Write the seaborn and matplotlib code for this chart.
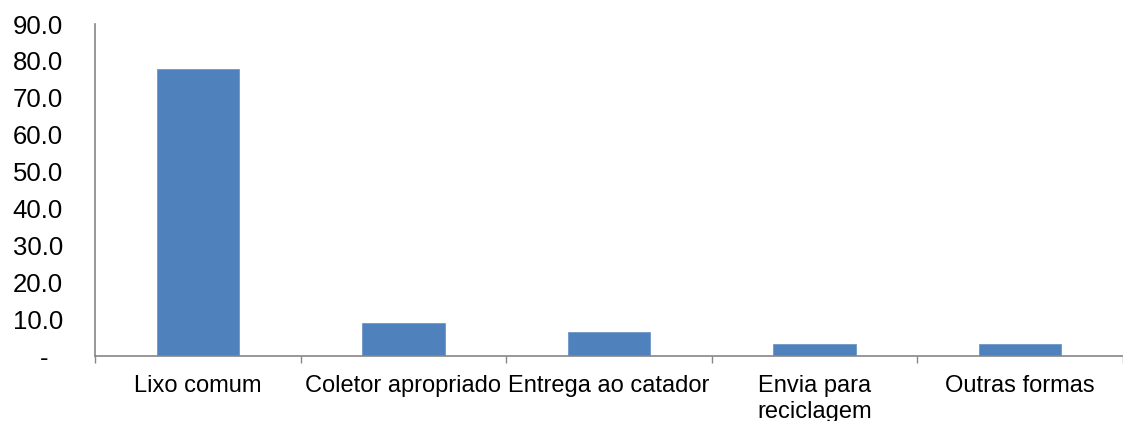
import matplotlib
matplotlib.use('Agg')
import matplotlib.pyplot as plt
import seaborn as sns
import pandas as pd
import numpy as np
from matplotlib.ticker import FuncFormatter

categorias = ['Lixo comum', 'Coletor apropriado', 'Entrega ao catador',
              'Envia para\nreciclagem', 'Outras formas']
percentuais = [77.8, 8.9, 6.4, 3.3, 3.2]
y_ticks = [0, 10, 20, 30, 40, 50, 60, 70, 80, 90]

BAR = '#4F81BD'
AXIS = '#868686'

sns.set_style('white')
plt.rcParams['font.family'] = ['Liberation Sans', 'DejaVu Sans']

df = pd.DataFrame({'categoria': categorias, 'valor': percentuais})

fig = plt.figure(figsize=(11.23, 4.21), dpi=100)
ax = fig.add_axes([95 / 1123, 65 / 421, (1123 - 95) / 1123, 332 / 421])

sns.barplot(data=df, x='categoria', y='valor', color=BAR, width=0.4,
            saturation=1, edgecolor='#6F97C8', linewidth=0.6, ax=ax)

ax.set_ylim(0, 90)
ax.set_xlim(-0.5, -0.5 + (1123 - 95) / 207.5)
ax.set_yticks(y_ticks)
ax.yaxis.set_major_formatter(FuncFormatter(lambda v, p: '-  ' if v == 0 else f'{v:.1f}'))

ax.set_xticks(np.arange(len(categorias)))
ax.set_xticklabels(categorias)
ax.set_xticks(np.arange(len(categorias) + 1) - 0.5, minor=True)
ax.tick_params(axis='x', which='major', length=0, pad=14, labelsize=17, colors='black')
ax.tick_params(axis='x', which='minor', length=5, width=1, color=AXIS, direction='out')
ax.tick_params(axis='y', length=6, width=1, color=AXIS, direction='out', pad=17,
               labelsize=18.5, labelcolor='black')
ax.tick_params(axis='x', which='both', bottom=True)

sns.despine(ax=ax, top=True, right=True)
for side in ['left', 'bottom']:
    ax.spines[side].set_color(AXIS)
    ax.spines[side].set_linewidth(1.2)

ax.set_xlabel('')
ax.set_ylabel('')
ax.grid(False)

fig.savefig('out.png', dpi=100, facecolor='white')
